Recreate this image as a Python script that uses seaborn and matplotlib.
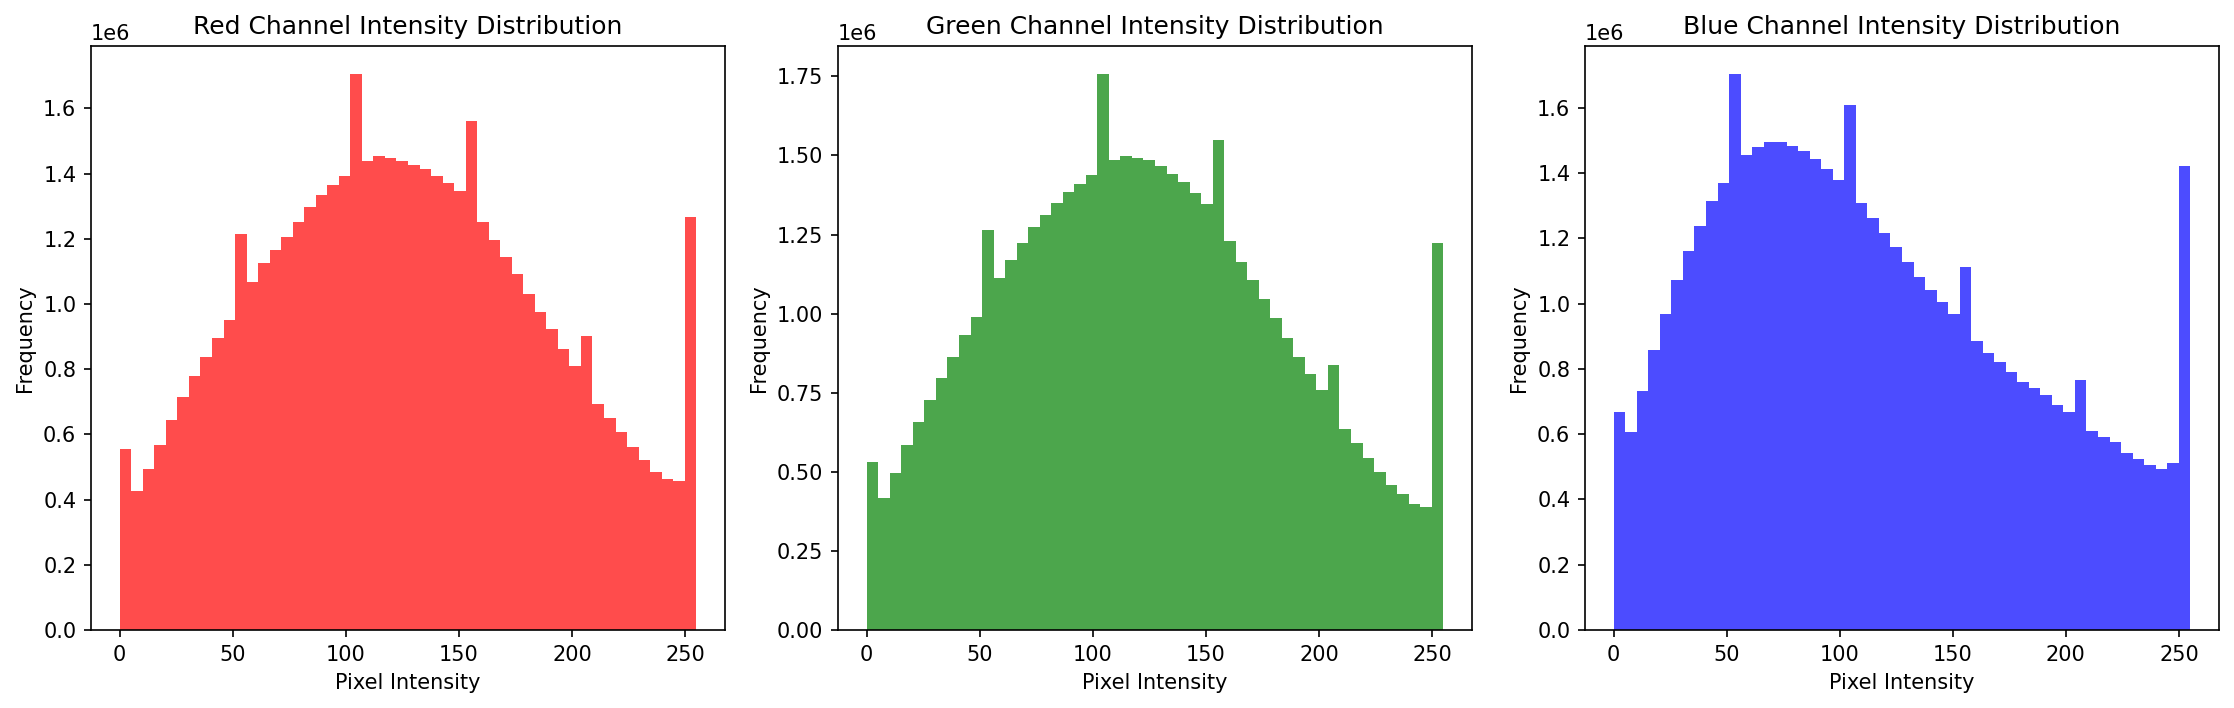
import numpy as np
import pandas as pd
import matplotlib
matplotlib.use('Agg')
import matplotlib.pyplot as plt
import seaborn as sns

# ============================================================================
# Data: bar heights (x1e6) of the 50 bins over 0..255
# ============================================================================

red_counts = [0.555, 0.427, 0.494, 0.568, 0.644, 0.714, 0.778, 0.836, 0.897, 0.952,
              1.216, 1.066, 1.127, 1.167, 1.207, 1.250, 1.299, 1.335, 1.366, 1.394,
              1.706, 1.440, 1.455, 1.449, 1.440, 1.427, 1.415, 1.394, 1.372, 1.348,
              1.562, 1.250, 1.195, 1.143, 1.091, 1.032, 0.975, 0.923, 0.862, 0.809,
              0.902, 0.692, 0.649, 0.606, 0.560, 0.520, 0.486, 0.462, 0.456, 1.268]

green_counts = [0.530, 0.417, 0.495, 0.584, 0.657, 0.728, 0.797, 0.864, 0.931, 0.990,
                1.264, 1.113, 1.169, 1.224, 1.275, 1.312, 1.350, 1.385, 1.411, 1.439,
                1.758, 1.487, 1.498, 1.492, 1.487, 1.467, 1.442, 1.416, 1.381, 1.347,
                1.550, 1.230, 1.164, 1.106, 1.046, 0.987, 0.922, 0.864, 0.809, 0.760,
                0.837, 0.636, 0.591, 0.543, 0.499, 0.458, 0.430, 0.398, 0.389, 1.223]

blue_counts = [0.667, 0.607, 0.732, 0.858, 0.968, 1.072, 1.162, 1.238, 1.315, 1.370,
               1.704, 1.456, 1.481, 1.496, 1.496, 1.484, 1.468, 1.443, 1.413, 1.380,
               1.609, 1.308, 1.263, 1.216, 1.172, 1.128, 1.081, 1.042, 1.005, 0.968,
               1.112, 0.885, 0.849, 0.822, 0.791, 0.759, 0.741, 0.719, 0.689, 0.667,
               0.766, 0.609, 0.591, 0.575, 0.542, 0.523, 0.505, 0.492, 0.512, 1.422]

channels = ['Red', 'Green', 'Blue']
colors = ['red', 'green', 'blue']
n_bins = 50
bin_edges = np.linspace(0, 255, n_bins + 1)
bin_centers = (bin_edges[:-1] + bin_edges[1:]) / 2

df = pd.DataFrame({
    'intensity': np.tile(bin_centers, 3),
    'count': np.concatenate([red_counts, green_counts, blue_counts]) * 1e6,
    'channel': np.repeat(channels, n_bins),
})

# ============================================================================
# Plot
# ============================================================================

fig, axes = plt.subplots(1, 3, figsize=(2234 / 150, 708 / 150), dpi=150)

for ax, ch, col in zip(axes, channels, colors):
    sub = df[df['channel'] == ch]
    sns.histplot(data=sub, x='intensity', weights='count', bins=n_bins,
                 binrange=(0, 255), color=col, alpha=0.7, linewidth=0,
                 edgecolor=None, ax=ax)
    ax.set_title(f'{ch} Channel Intensity Distribution', fontsize=12)
    ax.set_xlabel('Pixel Intensity')
    ax.set_ylabel('Frequency')
    ax.set_xticks([0, 50, 100, 150, 200, 250])

plt.subplots_adjust(left=0.0407, right=0.9933, bottom=0.1102, top=0.935, wspace=0.178)

plt.savefig('out.png', dpi=150, facecolor='white')
